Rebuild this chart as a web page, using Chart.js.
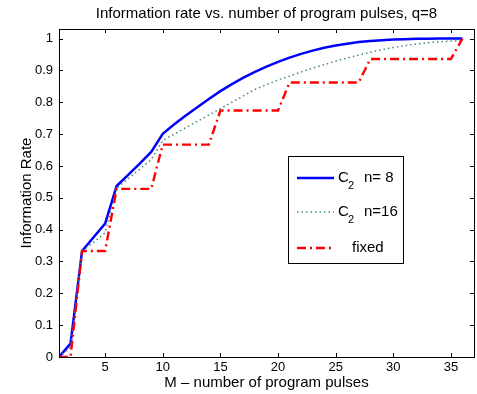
<!DOCTYPE html>
<html>
<head>
<meta charset="utf-8">
<script src="https://cdn.jsdelivr.net/npm/chart.js@4.4.0/dist/chart.umd.min.js"></script>
<style>
  html, body { margin: 0; padding: 0; background: #fff; }
  canvas { display: block; }
</style>
</head>
<body>
<canvas id="grafica" width="477" height="394"></canvas>
<script>
// M - numero de pulsos
const pulsos = [1, 2, 3, 4, 5, 6, 7, 8, 9, 10, 11, 12, 13, 14, 15, 16, 17, 18,
  19, 20, 21, 22, 23, 24, 25, 26, 27, 28, 29, 30, 31, 32, 33, 34, 35, 36];

// C2 n=8 (linea azul)
const tasaC2n8 = [0, 0.042, 0.333, 0.376, 0.419, 0.537, 0.572, 0.607, 0.644, 0.701,
  0.731, 0.758, 0.784, 0.810, 0.835, 0.857, 0.877, 0.895, 0.912, 0.927,
  0.940, 0.952, 0.962, 0.971, 0.978, 0.984, 0.989, 0.992, 0.995, 0.997,
  0.998, 0.999, 0.9995, 1.0, 1.0, 1.0];

// C2 n=16 (punteada)
const tasaC2n16 = [0, 0.03, 0.333, 0.36, 0.39, 0.53, 0.56, 0.59, 0.62, 0.68,
  0.70, 0.72, 0.74, 0.76, 0.78, 0.80, 0.82, 0.84, 0.855, 0.87,
  0.882, 0.895, 0.907, 0.918, 0.929, 0.939, 0.948, 0.957, 0.965, 0.972,
  0.978, 0.983, 0.987, 0.990, 0.992, 0.993];

// fixed (raya-punto roja)
const tasaFija = [0, 0, 0.333, 0.333, 0.333, 0.528, 0.528, 0.528, 0.528, 0.667,
  0.667, 0.667, 0.667, 0.667, 0.774, 0.774, 0.774, 0.774, 0.774, 0.774,
  0.862, 0.862, 0.862, 0.862, 0.862, 0.862, 0.862, 0.936, 0.936, 0.936,
  0.936, 0.936, 0.936, 0.936, 0.936, 1.0];

const ticksX = [5, 10, 15, 20, 25, 30, 35];
const ticksY = [0, 0.1, 0.2, 0.3, 0.4, 0.5, 0.6, 0.7, 0.8, 0.9, 1];

const fuente = "'Liberation Sans', Arial, Helvetica, sans-serif";

function puntos(valores) {
  return pulsos.map(function (m, i) { return { x: m, y: valores[i] }; });
}

// dibuja marco, marcas interiores, titulos y leyenda (estilo MATLAB)
const estiloMatlab = {
  id: "estiloMatlab",
  afterDraw: function (chart) {
    const ctx = chart.ctx;
    const a = chart.chartArea;
    const sx = chart.scales.x;
    const sy = chart.scales.y;
    ctx.save();
    ctx.strokeStyle = "#000";
    ctx.lineWidth = 1;
    ctx.beginPath();
    ticksX.forEach(function (v) {
      const px = Math.round(sx.getPixelForValue(v)) + 0.5;
      ctx.moveTo(px, a.bottom); ctx.lineTo(px, a.bottom - 4);
      ctx.moveTo(px, a.top); ctx.lineTo(px, a.top + 4);
    });
    ticksY.forEach(function (v) {
      const py = Math.round(sy.getPixelForValue(v)) + 0.5;
      ctx.moveTo(a.left, py); ctx.lineTo(a.left + 4, py);
      ctx.moveTo(a.right, py); ctx.lineTo(a.right - 4, py);
    });
    ctx.stroke();
    ctx.strokeRect(Math.round(a.left) + 0.5, Math.round(a.top) + 0.5,
      Math.round(a.right - a.left), Math.round(a.bottom - a.top));

    // titulos
    ctx.fillStyle = "#000";
    ctx.textAlign = "center";
    ctx.textBaseline = "middle";
    ctx.font = "15px " + fuente;
    ctx.fillText("Information rate vs. number of program pulses, q=8", (a.left + a.right) / 2, 14);
    ctx.fillText("M \u2013 number of program pulses", (a.left + a.right) / 2, 383);
    ctx.save();
    ctx.translate(27, (a.top + a.bottom) / 2);
    ctx.rotate(-Math.PI / 2);
    ctx.fillText("Information Rate", 0, 0);
    ctx.restore();

    // leyenda
    const lx = 288, ly = 156, lw = 115, lh = 107;
    ctx.fillStyle = "#fff";
    ctx.fillRect(lx, ly, lw, lh);
    ctx.strokeRect(lx + 0.5, ly + 0.5, lw, lh);
    const filas = [
      { ds: chart.data.datasets[0], y: 178, base: "C", sub: "2", resto: "n= 8" },
      { ds: chart.data.datasets[1], y: 212, base: "C", sub: "2", resto: "n=16" },
      { ds: chart.data.datasets[2], y: 248, base: "", sub: "", resto: "fixed" },
    ];
    filas.forEach(function (f) {
      ctx.save();
      ctx.strokeStyle = f.ds.borderColor;
      ctx.lineWidth = f.ds.borderWidth;
      ctx.setLineDash(f.ds.borderDash || []);
      ctx.beginPath();
      ctx.moveTo(297, f.y); ctx.lineTo(334, f.y);
      ctx.stroke();
      ctx.restore();
      ctx.fillStyle = "#000";
      ctx.textAlign = "left";
      ctx.textBaseline = "middle";
      if (f.base) {
        ctx.font = "15px " + fuente;
        ctx.fillText(f.base, 338, f.y);
        ctx.font = "11px " + fuente;
        ctx.fillText(f.sub, 348, f.y + 8);
        ctx.font = "15px " + fuente;
        ctx.fillText(f.resto, 364, f.y);
      } else {
        ctx.font = "15px " + fuente;
        ctx.fillText(f.resto, 352, f.y);
      }
    });
    ctx.restore();
  },
};

const ctxGrafica = document.getElementById("grafica").getContext("2d");
const grafica = new Chart(ctxGrafica, {
  type: "line",
  data: {
    datasets: [
      {
        label: "C2 n= 8",
        data: puntos(tasaC2n8),
        borderColor: "#0000ff",
        borderWidth: 2.5,
        order: 2,
      },
      {
        label: "C2 n=16",
        data: puntos(tasaC2n16),
        borderColor: "rgb(70,135,125)",
        borderWidth: 1.5,
        borderDash: [1.5, 3],
        order: 1,
      },
      {
        label: "fixed",
        data: puntos(tasaFija),
        borderColor: "#ff0000",
        borderWidth: 2.4,
        borderDash: [9, 4, 2, 4],
        order: 0,
      },
    ],
  },
  options: {
    responsive: false,
    animation: false,
    devicePixelRatio: 1,
    elements: {
      point: { radius: 0 },
      line: { tension: 0, fill: false },
    },
    layout: { padding: { left: 0, top: 29, right: 3, bottom: 0 } },
    scales: {
      x: {
        type: "linear",
        min: 1,
        max: 37,
        afterBuildTicks: function (scale) {
          scale.ticks = ticksX.map(function (v) { return { value: v }; });
        },
        afterFit: function (scale) { scale.height = 37; },
        grid: { display: false, drawTicks: false },
        border: { display: false },
        ticks: {
          padding: 3,
          color: "#000",
          font: { family: fuente, size: 13 },
          maxRotation: 0,
        },
      },
      y: {
        type: "linear",
        min: 0,
        max: 1.03,
        afterBuildTicks: function (scale) {
          scale.ticks = ticksY.map(function (v) { return { value: v }; });
        },
        afterFit: function (scale) { scale.width = 59; },
        grid: { display: false, drawTicks: false },
        border: { display: false },
        ticks: {
          padding: 6,
          color: "#000",
          font: { family: fuente, size: 13 },
          callback: function (value) { return String(Math.round(value * 10) / 10); },
        },
      },
    },
    plugins: {
      legend: { display: false },
      title: { display: false },
      tooltip: { enabled: false },
    },
  },
  plugins: [estiloMatlab],
});
</script>
</body>
</html>
